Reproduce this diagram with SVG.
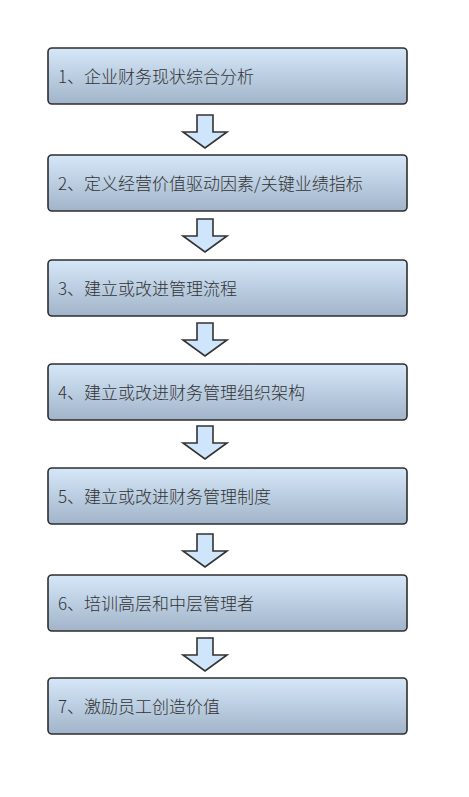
<svg xmlns="http://www.w3.org/2000/svg" width="469" height="797" viewBox="0 0 469 797">
<defs>
<linearGradient id="g" x1="0" y1="0" x2="0" y2="1">
<stop offset="0" stop-color="#d6e7f9"/>
<stop offset="1" stop-color="#a1b4c9"/>
</linearGradient>
<path id="arr" d="M-8,0 H8 V17 H22 L0,33 L-22,17 H-8 Z"/>
</defs>
<style>
.box{fill:url(#g);stroke:#2e2e2e;stroke-width:1.6}
.t{font-family:"Noto Sans CJK SC","Microsoft YaHei",sans-serif;font-size:17px;font-weight:300;fill:#333}
.a{fill:#cfe5fb;stroke:#333;stroke-width:1.6;stroke-linejoin:miter}
</style>
<rect width="469" height="797" fill="#fff"/>
<g id="connectors">
<use href="#arr" class="a" x="205" y="115"/>
<use href="#arr" class="a" x="205" y="219"/>
<use href="#arr" class="a" x="205" y="323"/>
<use href="#arr" class="a" x="205" y="426"/>
<use href="#arr" class="a" x="205" y="534"/>
<use href="#arr" class="a" x="205" y="638"/>
</g>
<g id="n1"><rect class="box" x="48" y="48" width="359" height="56" rx="4"/><text class="t" x="58" y="83">1、企业财务现状综合分析</text></g>
<g id="n2"><rect class="box" x="48" y="155" width="359" height="56" rx="4"/><text class="t" x="58" y="190">2、定义经营价值驱动因素/关键业绩指标</text></g>
<g id="n3"><rect class="box" x="48" y="260" width="359" height="56" rx="4"/><text class="t" x="58" y="295">3、建立或改进管理流程</text></g>
<g id="n4"><rect class="box" x="48" y="364" width="359" height="56" rx="4"/><text class="t" x="58" y="399">4、建立或改进财务管理组织架构</text></g>
<g id="n5"><rect class="box" x="48" y="468" width="359" height="56" rx="4"/><text class="t" x="58" y="503">5、建立或改进财务管理制度</text></g>
<g id="n6"><rect class="box" x="48" y="575" width="359" height="56" rx="4"/><text class="t" x="58" y="610">6、培训高层和中层管理者</text></g>
<g id="n7"><rect class="box" x="48" y="678" width="359" height="56" rx="4"/><text class="t" x="58" y="713">7、激励员工创造价值</text></g>
</svg>
